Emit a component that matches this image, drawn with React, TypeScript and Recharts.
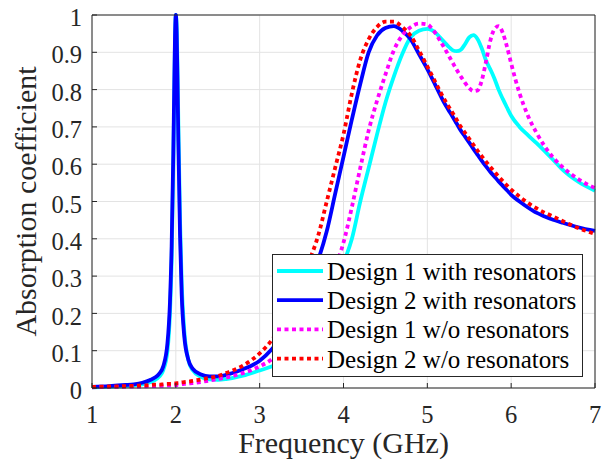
import { LineChart, Line, XAxis, YAxis, CartesianGrid, Legend } from "recharts";

// frequency samples (GHz), shared by every curve
const FREQ = [
  1, 1.2, 1.4, 1.5, 1.6, 1.7, 1.75, 1.8, 1.85, 1.9,
  1.93, 1.95, 1.97, 1.98, 1.99, 2.0, 2.01, 2.02, 2.03, 2.05,
  2.07, 2.1, 2.15, 2.2, 2.3, 2.4, 2.5, 2.6, 2.8, 3.0,
  3.15, 3.3, 3.45, 3.6, 3.7, 3.8, 3.9, 4.0, 4.1, 4.2,
  4.3, 4.4, 4.5, 4.6, 4.7, 4.8, 4.9, 5.0, 5.05, 5.1,
  5.15, 5.2, 5.25, 5.3, 5.35, 5.4, 5.45, 5.5, 5.55, 5.6,
  5.65, 5.7, 5.75, 5.8, 5.85, 5.9, 5.95, 6.0, 6.1, 6.2,
  6.3, 6.4, 6.5, 6.6, 6.8, 7.0,
];

const D1_RES = [
  0.002, 0.003, 0.005, 0.007, 0.01, 0.016, 0.021, 0.03, 0.048, 0.1,
  0.2, 0.34, 0.6, 0.77, 0.93, 1.0, 0.97, 0.86, 0.71, 0.45,
  0.28, 0.155, 0.075, 0.048, 0.03, 0.023, 0.022, 0.024, 0.033, 0.047,
  0.058, 0.075, 0.1, 0.14, 0.18, 0.23, 0.28, 0.335, 0.4, 0.5,
  0.59, 0.68, 0.765, 0.835, 0.895, 0.94, 0.958, 0.963, 0.96, 0.952,
  0.94, 0.928, 0.916, 0.906, 0.903, 0.907, 0.922, 0.94, 0.946, 0.935,
  0.91, 0.878, 0.855, 0.83, 0.8, 0.775, 0.752, 0.73, 0.7, 0.678,
  0.657, 0.635, 0.612, 0.588, 0.553, 0.529,
];

const D2_RES = [
  0.003, 0.005, 0.008, 0.01, 0.014, 0.022, 0.028, 0.038, 0.058, 0.12,
  0.23, 0.38, 0.63, 0.79, 0.94, 1.0, 0.95, 0.82, 0.66, 0.41,
  0.25, 0.14, 0.075, 0.052, 0.036, 0.031, 0.031, 0.035, 0.05, 0.073,
  0.105, 0.15, 0.21, 0.29, 0.345, 0.42, 0.52, 0.62, 0.72, 0.815,
  0.9, 0.945, 0.965, 0.97, 0.958, 0.935, 0.895, 0.855, 0.833, 0.81,
  0.787, 0.765, 0.746, 0.728, 0.709, 0.69, 0.674, 0.658, 0.641, 0.625,
  0.609, 0.594, 0.58, 0.567, 0.554, 0.542, 0.53, 0.518, 0.5, 0.484,
  0.47, 0.46, 0.451, 0.444, 0.431, 0.421,
];

const D1_NORES = [
  0.002, 0.003, 0.003, 0.004, 0.004, 0.005, 0.005, 0.006, 0.006, 0.007,
  0.007, 0.007, 0.008, 0.008, 0.008, 0.008, 0.008, 0.009, 0.009, 0.009,
  0.01, 0.011, 0.012, 0.013, 0.016, 0.02, 0.024, 0.028, 0.04, 0.058,
  0.078, 0.11, 0.15, 0.2, 0.24, 0.28, 0.325, 0.39, 0.485, 0.59,
  0.69, 0.77, 0.84, 0.905, 0.945, 0.967, 0.977, 0.975, 0.965, 0.95,
  0.932, 0.913, 0.893, 0.873, 0.853, 0.835, 0.818, 0.804, 0.796, 0.798,
  0.825, 0.875, 0.93, 0.962, 0.97, 0.952, 0.915, 0.87, 0.79, 0.73,
  0.685, 0.648, 0.618, 0.595, 0.56, 0.536,
];

const D2_NORES = [
  0.003, 0.004, 0.005, 0.006, 0.007, 0.008, 0.009, 0.009, 0.01, 0.011,
  0.011, 0.011, 0.012, 0.012, 0.012, 0.012, 0.013, 0.013, 0.013, 0.014,
  0.015, 0.016, 0.017, 0.019, 0.023, 0.027, 0.032, 0.04, 0.06, 0.093,
  0.13, 0.185, 0.26, 0.345, 0.41, 0.5, 0.59, 0.68, 0.79, 0.88,
  0.935, 0.968, 0.982, 0.982, 0.968, 0.945, 0.905, 0.862, 0.84, 0.818,
  0.796, 0.775, 0.756, 0.738, 0.719, 0.7, 0.684, 0.668, 0.652, 0.636,
  0.621, 0.607, 0.593, 0.58, 0.567, 0.555, 0.543, 0.532, 0.513, 0.496,
  0.482, 0.47, 0.46, 0.449, 0.429, 0.413,
];

const X_TICKS = [1, 2, 3, 4, 5, 6, 7];
const Y_TICKS = [0, 0.1, 0.2, 0.3, 0.4, 0.5, 0.6, 0.7, 0.8, 0.9, 1];

const SERIES = [
  { key: "d1r", name: "Design 1 with resonators", values: D1_RES, color: "#00ffff", dash: undefined },
  { key: "d2r", name: "Design 2 with resonators", values: D2_RES, color: "#0000ff", dash: undefined },
  { key: "d1n", name: "Design 1 w/o resonators", values: D1_NORES, color: "#ff00ff", dash: "4 3.5" },
  { key: "d2n", name: "Design 2 w/o resonators", values: D2_NORES, color: "#ff0000", dash: "4 3.5" },
];

const data = FREQ.map((f, i) => {
  const row: Record<string, number> = { f };
  SERIES.forEach((s) => (row[s.key] = s.values[i]));
  return row;
});

const W = 615;
const H = 471;
const PLOT_LEFT = 92;
const PLOT_RIGHT = 595;
const PLOT_TOP = 15;
const PLOT_BOTTOM = 388;
const INK = "#262626";
const FONT = "Liberation Serif, Times New Roman, serif";
const fontStyle = { fontFamily: FONT };

const XTitle = () => (
  <text x={(PLOT_LEFT + PLOT_RIGHT) / 2} y={453} textAnchor="middle" fontSize={30} fill={INK} style={fontStyle}>
    Frequency (GHz)
  </text>
);

const YTitle = () => {
  const cy = (PLOT_TOP + PLOT_BOTTOM) / 2;
  return (
    <text
      x={36}
      y={cy}
      transform={`rotate(-90 36 ${cy})`}
      textAnchor="middle"
      fontSize={30}
      fill={INK}
      style={fontStyle}
    >
      Absorption coefficient
    </text>
  );
};

// legend box drawn like matlab's, on top of the curves
const LegendBox = () => (
  <svg width={311} height={123} style={{ display: "block" }}>
    <rect x={0.5} y={0.5} width={310} height={122} fill="#fff" stroke={INK} strokeWidth={1} />
    {SERIES.map((s, i) => {
      const y = 17 + i * 29.2;
      return (
        <g key={s.key}>
          <line x1={5} x2={51} y1={y} y2={y} stroke={s.color} strokeWidth={3.8} strokeDasharray={s.dash} />
          <text x={55} y={y + 9} fontSize={25} fill="#000" style={fontStyle}>
            {s.name}
          </text>
        </g>
      );
    })}
  </svg>
);

export default function App() {
  const tickStyle = { fontSize: 24.5, fill: INK, style: fontStyle };
  return (
    <div style={{ position: "absolute", left: 0, top: 0, width: W, height: H, background: "#fff", fontFamily: FONT }}>
      <LineChart
        width={W}
        height={H}
        data={data}
        style={fontStyle}
        margin={{ top: PLOT_TOP - 1, right: W - PLOT_RIGHT - 1, bottom: 0, left: 0 }}
      >
        <CartesianGrid stroke="#e3e3e3" strokeWidth={1} />
        <XAxis
          dataKey="f"
          type="number"
          domain={[1, 7]}
          ticks={X_TICKS}
          height={H - PLOT_BOTTOM}
          tickSize={-5}
          tickMargin={23}
          tick={tickStyle}
          stroke={INK}
          axisLine={{ stroke: INK }}
          tickLine={{ stroke: INK }}
          label={<XTitle />}
        />
        <XAxis
          xAxisId="top"
          orientation="top"
          dataKey="f"
          type="number"
          domain={[1, 7]}
          ticks={X_TICKS}
          height={1}
          tickSize={-5}
          tick={false}
          stroke={INK}
        />
        <YAxis
          type="number"
          domain={[0, 1]}
          ticks={Y_TICKS}
          width={PLOT_LEFT}
          tickSize={-5}
          tickMargin={15}
          tick={{ ...tickStyle, dy: 2.5 }}
          stroke={INK}
          label={<YTitle />}
        />
        <YAxis
          yAxisId="right"
          orientation="right"
          type="number"
          domain={[0, 1]}
          ticks={Y_TICKS}
          width={1}
          tickSize={-5}
          tick={false}
          stroke={INK}
        />
        {SERIES.map((s) => (
          <Line
            key={s.key}
            dataKey={s.key}
            name={s.name}
            type="monotone"
            stroke={s.color}
            strokeWidth={3.8}
            strokeDasharray={s.dash}
            strokeLinecap="butt"
            dot={false}
            activeDot={false}
            isAnimationActive={false}
          />
        ))}
        <Legend
          verticalAlign="middle"
          align="center"
          wrapperStyle={{ position: "absolute", left: 272, top: 254, width: 311, height: 123, margin: 0, padding: 0 }}
          content={() => <LegendBox />}
        />
      </LineChart>
    </div>
  );
}
